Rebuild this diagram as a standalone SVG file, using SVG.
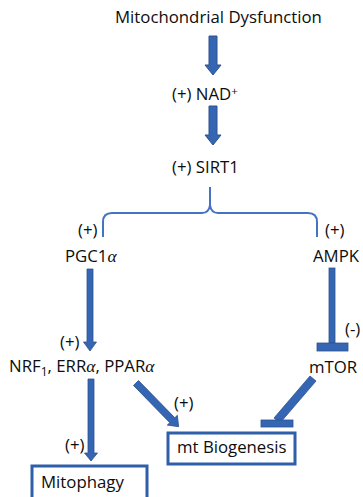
<svg xmlns="http://www.w3.org/2000/svg" width="363" height="497" viewBox="0 0 363 497">
<style>
text{font-family:"Open Sans","Liberation Sans",sans-serif;font-size:16.8px;fill:#0d0d0d}
.greek{font-family:"Liberation Serif",serif;font-style:italic;font-size:17.5px}
.big{fill:#3566B4;stroke:#2F528F;stroke-width:1}
.thin{fill:#3566B4;stroke:#2F528F;stroke-width:0.8}
.box{fill:#fff;stroke:#2F5FA8;stroke-width:3}
.brace{fill:none;stroke:#4472C4;stroke-width:2}
</style>
<rect width="363" height="497" fill="#fff"/>
<g id="connectors">
<polygon class="big" points="209,36 217,36 217,65 221,65 213,75 205,65 209,65"/>
<polygon class="big" points="209,106 217,106 217,135 221,135 213,145 205,135 209,135"/>
<path id="brace" class="brace" d="M103,237 L103,222 Q103,213 112,213 L202,213 Q209,213 210,205 Q211,213 218,213 L308,213 Q317,213 317,222 L317,237 M210,187 L210,205"/>
<polygon class="thin" points="87,269 93,269 93,342 96.5,342 90,351 83.5,342 87,342"/>
<polygon class="thin" points="88,379 94,379 94,453 97.5,453 91,461 84.5,453 88,453"/>
<polygon class="thin" transform="translate(136,383) rotate(45.7)" points="0,-3.5 52,-3.5 52,-7 61,0 52,7 52,3.5 0,3.5"/>
<rect class="thin" x="329" y="268" width="6" height="75"/>
<rect class="thin" x="317" y="343" width="31" height="8"/>
<polygon class="thin" points="310,376 316,381 280,423 274,418"/>
<rect class="thin" x="261" y="420" width="32" height="7"/>
</g>
<g id="title"><text x="115" y="23">Mitochondrial Dysfunction</text></g>
<g id="nad"><text x="172" y="100">(+) NAD<tspan dy="-5" font-size="11.5">+</tspan></text></g>
<g id="sirt1"><text x="172" y="173">(+) SIRT1</text></g>
<g id="plus-left"><text x="78" y="236">(+)</text></g>
<g id="plus-right"><text x="325" y="236">(+)</text></g>
<g id="pgc1a"><text x="65" y="262">PGC1<tspan class="greek">α</tspan></text></g>
<g id="ampk"><text x="313" y="262">AMPK</text></g>
<g id="plus-nrf"><text x="60" y="348">(+)</text></g>
<g id="nrf"><text x="9" y="372">NRF<tspan dy="4" font-size="12">1</tspan><tspan dy="-4">, ERR</tspan><tspan class="greek">α</tspan>, PPAR<tspan class="greek">α</tspan></text></g>
<g id="minus"><text x="345" y="335">(-)</text></g>
<g id="mtor"><text x="309" y="373">mTOR</text></g>
<g id="plus-bio"><text x="174" y="409">(+)</text></g>
<g id="plus-mito"><text x="65" y="451">(+)</text></g>
<g id="biogenesis"><rect class="box" x="168" y="433" width="127" height="31"/><text x="177" y="453">mt Biogenesis</text></g>
<g id="mitophagy"><rect class="box" x="32" y="466" width="115" height="40"/><text x="41" y="488">Mitophagy</text></g>
</svg>
